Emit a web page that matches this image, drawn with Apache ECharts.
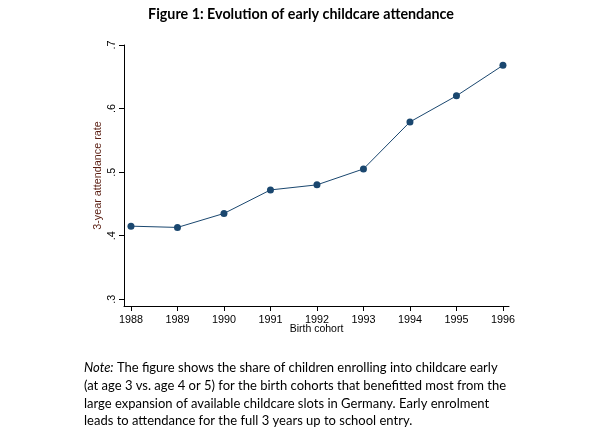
<!DOCTYPE html>
<html><head><meta charset="utf-8">
<script src="https://cdn.jsdelivr.net/npm/echarts@6/dist/echarts.min.js"></script>
<style>html,body{margin:0;padding:0;background:#fff}#c{width:602px;height:431px}</style>
</head><body><div id="c"></div>
<script>
const years = [1988, 1989, 1990, 1991, 1992, 1993, 1994, 1995, 1996];
const rate = [0.415, 0.413, 0.435, 0.472, 0.480, 0.505, 0.579, 0.620, 0.668];
const yTicks = [0.3, 0.4, 0.5, 0.6, 0.7];
const titleText = 'Figure 1: Evolution of early childcare attendance';
const noteLines = [
  'The figure shows the share of children enrolling into childcare early',
  '(at age 3 vs. age 4 or 5) for the birth cohorts that benefitted most from the',
  'large expansion of available childcare slots in Germany. Early enrolment',
  'leads to attendance for the full 3 years up to school entry.'
];
const navy = '#1a476f';
const chart = echarts.init(document.getElementById('c'), null, {renderer: 'canvas'});
chart.setOption({
  animation: false,
  backgroundColor: '#fff',
  title: {
    text: titleText, left: 'center', top: 2,
    textStyle: {fontFamily: 'Lato', fontWeight: 'bold', fontSize: 14.3, color: '#000'}
  },
  grid: {left: 124, right: 93, top: 45, bottom: 125},
  xAxis: {
    type: 'value', min: 1987.85, max: 1996.13,
    name: 'Birth cohort', nameLocation: 'middle', nameGap: 18, nameMoveOverlap: false,
    nameTextStyle: {fontFamily: 'Liberation Sans', fontSize: 10.5, color: '#000'},
    axisLine: {lineStyle: {color: '#000', width: 1}},
    axisTick: {show: true, length: 5, lineStyle: {color: '#000'}, customValues: years},
    axisLabel: {customValues: years, fontFamily: 'Liberation Sans', fontSize: 10.8, color: '#000', margin: 9, formatter: v => String(v)},
    splitLine: {show: false}
  },
  yAxis: {
    type: 'value', min: 0.2894, max: 0.7,
    name: '3-year attendance rate', nameLocation: 'middle', nameGap: 20, nameRotate: 90, nameMoveOverlap: false,
    nameTextStyle: {fontFamily: 'Liberation Sans', fontSize: 10.8, color: '#5a1e12'},
    axisLine: {show: true, lineStyle: {color: '#000', width: 1}},
    axisTick: {show: true, length: 5, lineStyle: {color: '#000'}, customValues: yTicks},
    axisLabel: {customValues: yTicks, rotate: 90, fontFamily: 'Liberation Sans', fontSize: 10.8, color: '#000', margin: 6,
      formatter: v => v.toFixed(1).replace(/^0/, '')},
    splitLine: {show: false}
  },
  series: [{
    type: 'line', data: years.map((y, i) => [y, rate[i]]),
    symbol: 'circle', symbolSize: 7,
    lineStyle: {color: navy, width: 1},
    itemStyle: {color: navy}
  }],
  graphic: [{
    type: 'text', left: 84, top: 359,
    style: {
      text: '{i|Note:} ' + noteLines.join('\n'),
      rich: {i: {fontStyle: 'italic', fontFamily: 'Lato', fontSize: 13, lineHeight: 17.8}},
      fontFamily: 'Lato', fontSize: 13, lineHeight: 17.8, fill: '#000'
    }
  }]
});
</script></body></html>
